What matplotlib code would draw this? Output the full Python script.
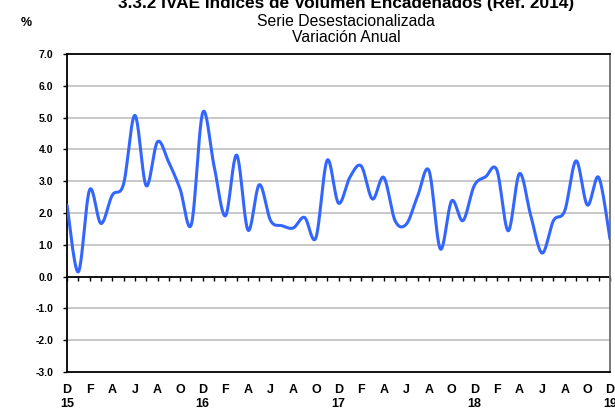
import numpy as np
import matplotlib
matplotlib.use("Agg")
import matplotlib.pyplot as plt

plt.rcParams['font.family'] = ['Liberation Sans', 'DejaVu Sans']

# ---- data -------------------------------------------------------------
month_letters = ["D", "F", "A", "J", "A", "O"]
year_labels = ["15", "16", "17", "18", "19"]
values = [2.25, 0.15, 2.73, 1.67, 2.56, 2.91, 5.07, 2.86, 4.24, 3.59,
          2.75, 1.65, 5.16, 3.48, 1.91, 3.82, 1.46, 2.89, 1.76, 1.60,
          1.53, 1.86, 1.22, 3.66, 2.31, 3.12, 3.48, 2.44, 3.12, 1.76,
          1.65, 2.54, 3.33, 0.87, 2.38, 1.76, 2.86, 3.14, 3.35, 1.44,
          3.24, 1.91, 0.74, 1.76, 2.07, 3.64, 2.25, 3.12, 1.18]
y_ticks = [-3, -2, -1, 0, 1, 2, 3, 4, 5, 6, 7]

title = "3.3.2 IVAE Índices de Volumen Encadenados (Ref. 2014)"
subtitle1 = "Serie Desestacionalizada"
subtitle2 = "Variación Anual"


def smooth_curve(x, y, n=24):
    """Bezier smoothing through every point (like a spreadsheet smoothed line)."""
    P = np.column_stack([x, y]).astype(float)
    Pp = np.vstack([P[0], P, P[-1]])
    out = []
    t = np.linspace(0, 1, n)[:, None]
    for i in range(len(P) - 1):
        p0, p1, p2, p3 = Pp[i], Pp[i + 1], Pp[i + 2], Pp[i + 3]
        c1 = p1 + (p2 - p0) / 6.0
        c2 = p2 - (p3 - p1) / 6.0
        seg = ((1 - t) ** 3) * p1 + 3 * ((1 - t) ** 2) * t * c1 + \
            3 * (1 - t) * t ** 2 * c2 + t ** 3 * p2
        out.append(seg if i == 0 else seg[1:])
    out = np.vstack(out)
    return out[:, 0], out[:, 1]


x = np.arange(len(values))
sx, sy = smooth_curve(x, np.array(values))

W, H = 615, 408
fig = plt.figure(figsize=(W / 100, H / 100), dpi=100)
ax = fig.add_axes([67 / W, 1 - 372 / H, (610 - 67) / W, (372 - 54) / H])

ax.set_xlim(0, len(values) - 1)
ax.set_ylim(-3, 7)

# grid lines
for v in y_ticks:
    if v not in (0, 7, -3):
        ax.axhline(v, color="#c4c4c4", lw=1.3, zorder=1)

ax.plot(sx, sy, color="#3366ff", lw=2.2, zorder=3, solid_capstyle="round")

# spines
for s in ["left", "top", "bottom"]:
    ax.spines[s].set_color("black")
    ax.spines[s].set_linewidth(1.3)
ax.spines["right"].set_color("#707070")
ax.spines["right"].set_linewidth(1.3)

# y axis
ax.set_yticks(y_ticks)
ax.set_yticklabels([f"{v:.1f}" for v in y_ticks], fontweight="bold")
ax.tick_params(axis="y", direction="out", length=3, width=1, pad=7,
               labelsize=7.5, colors="black")

# x labels along the bottom
pos = list(range(0, len(values), 2))
labs = []
for p in pos:
    letter = month_letters[(p // 2) % len(month_letters)]
    if p % 12 == 0:
        labs.append(letter + "\n" + year_labels[p // 12])
    else:
        labs.append(letter)
ax.set_xticks(pos)
ax.set_xticklabels(labs, fontweight="bold", linespacing=1.25)
ax.tick_params(axis="x", length=0, pad=8.5, labelsize=9, colors="black")

# zero axis line with monthly tick marks
sec = ax.secondary_xaxis(0.3)
sec.set_xticks(x)
sec.set_xticklabels([])
sec.tick_params(axis="x", direction="out", length=3, width=1, colors="black")
sec.spines["bottom"].set_linewidth(1.3)
sec.spines["bottom"].set_color("black")

# titles
cx = 346 / W
fig.text(cx, 1 - 8 / H, title, ha="center", va="baseline",
         fontsize=12.4, fontweight="bold")
fig.text(cx, 1 - 26 / H, subtitle1, ha="center", va="baseline", fontsize=11.3)
fig.text(cx, 1 - 42 / H, subtitle2, ha="center", va="baseline", fontsize=11.3)
fig.text(26 / W, 1 - 26 / H, "%", ha="center", va="baseline",
         fontsize=9, fontweight="bold")

fig.savefig("out.png", dpi=100)
